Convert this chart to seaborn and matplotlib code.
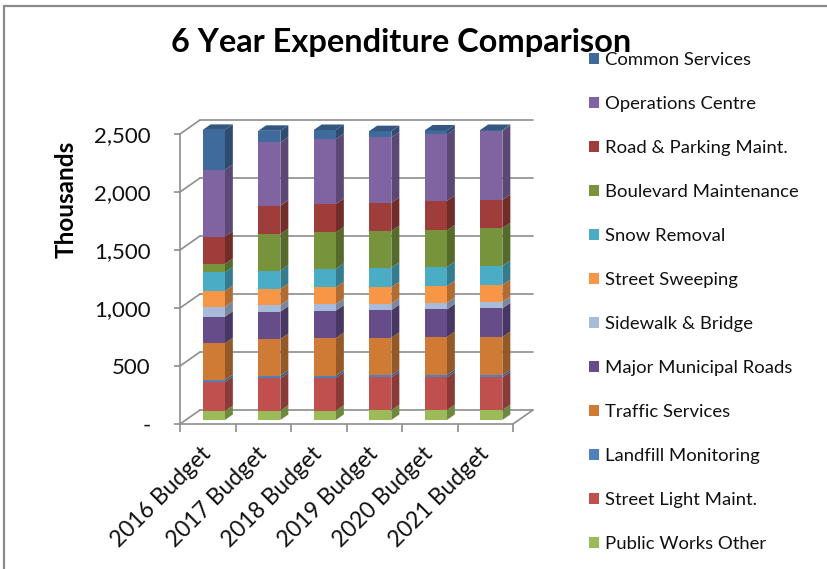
import numpy as np
import pandas as pd
import matplotlib
matplotlib.use("Agg")
import matplotlib.pyplot as plt
import matplotlib.transforms as mtransforms
import matplotlib.colors as mcolors
from matplotlib.patches import Polygon, Patch
from matplotlib.lines import Line2D
import seaborn as sns

# ---- data (thousands of dollars) ----
years = ["2016 Budget", "2017 Budget", "2018 Budget",
         "2019 Budget", "2020 Budget", "2021 Budget"]

# stack order, bottom to top
categories = ["Public Works Other", "Street Light Maint.", "Landfill Monitoring",
              "Traffic Services", "Major Municipal Roads", "Sidewalk & Bridge",
              "Street Sweeping", "Snow Removal", "Boulevard Maintenance",
              "Road & Parking Maint.", "Operations Centre", "Common Services"]

public_works_other = [78, 80, 80, 85, 85, 85]
street_light_maint = [247, 279, 282, 282, 282, 282]
landfill_monitoring = [20, 23, 20, 20, 20, 20]
traffic_services = [316, 316, 325, 322, 328, 328]
major_municipal_roads = [230, 236, 236, 238, 238, 247]
sidewalk_bridge = [86, 57, 57, 57, 57, 55]
street_sweeping = [135, 138, 144, 141, 144, 147]
snow_removal = [161, 158, 158, 167, 164, 164]
boulevard_maintenance = [72, 316, 316, 316, 316, 325]
road_parking_maint = [236, 244, 244, 244, 253, 244]
operations_centre = [575, 546, 560, 566, 575, 595]
common_services = [345, 100, 78, 52, 34, 8]

series = [public_works_other, street_light_maint, landfill_monitoring,
          traffic_services, major_municipal_roads, sidewalk_bridge,
          street_sweeping, snow_removal, boulevard_maintenance,
          road_parking_maint, operations_centre, common_services]

colors = ["#9BBB59", "#C0504D", "#4F81BD", "#CF7B36", "#664D8A", "#A9BBDA",
          "#F79646", "#4BACC6", "#77933C", "#9E3D3A", "#8064A2", "#3F6A9C"]

y_ticks = [0, 500, 1000, 1500, 2000, 2500]
y_tick_labels = ["-", "500", "1,000", "1,500", "2,000", "2,500"]

# ---- long-form table for seaborn ----
rows = []
for cat, vals in zip(categories, series):
    for yr, v in zip(years, vals):
        rows.append({"year": yr, "category": cat, "value": v})
df = pd.DataFrame(rows)
palette = dict(zip(categories, colors))

sns.set_theme(style="white")
plt.rcParams["font.family"] = ["Lato", "DejaVu Sans"]

W, H = 827, 569
fig = plt.figure(figsize=(W / 100, H / 100), dpi=100)
ax_l, ax_r, ax_t, ax_b = 180, 513, 134, 424
ax = fig.add_axes([ax_l / W, 1 - ax_b / H, (ax_r - ax_l) / W, (ax_b - ax_t) / H])

sns.histplot(data=df, x="year", hue="category", weights="value",
             multiple="stack", discrete=True, shrink=0.4,
             hue_order=categories[::-1], palette=palette,
             alpha=1, linewidth=0, legend=False, ax=ax)

ax.set_xlim(-0.5, len(years) - 0.5)
ax.set_ylim(0, 2500)

# pixel -> data conversion for the pseudo-3D depth
kx = (len(years)) / (ax_r - ax_l)
ky = 2500 / (ax_b - ax_t)

grid_col = "#8e8e8e"
lw = 1.2

# back wall offset and bar position within depth
wall_dx, wall_dy = 20 * kx, 14 * ky
bar_shift = mtransforms.ScaledTranslation(6 / 100, 4 / 100, fig.dpi_scale_trans)
bar_trans = ax.transData + bar_shift
depth_dx, depth_dy = 8 * kx, 5.5 * ky


def shade(c, f):
    r, g, b = mcolors.to_rgb(c)
    return (r * f, g * f, b * f)


# back wall gridlines with diagonal connectors to the front axis
x0, x1 = -0.5, len(years) - 0.5
for t in y_ticks:
    ax.add_line(Line2D([x0 + wall_dx, x1 + wall_dx], [t + wall_dy, t + wall_dy],
                       color=grid_col, lw=lw, clip_on=False, zorder=0.5))
    ax.add_line(Line2D([x0, x0 + wall_dx], [t, t + wall_dy],
                       color=grid_col, lw=lw, clip_on=False, zorder=0.5))
# right edge of the floor
ax.add_line(Line2D([x1, x1 + wall_dx], [0, wall_dy],
                   color=grid_col, lw=lw, clip_on=False, zorder=0.5))

# give each bar segment a side face, and each stack a top face
bars = [p for p in ax.patches if p.get_height() > 0]
tops = {}
for p in bars:
    c = p.get_facecolor()
    bx, by, bw, bh = p.get_x(), p.get_y(), p.get_width(), p.get_height()
    p.set_transform(bar_trans)
    p.set_clip_on(False)
    p.set_zorder(3)
    side = Polygon([(bx + bw, by), (bx + bw, by + bh),
                    (bx + bw + depth_dx, by + bh + depth_dy),
                    (bx + bw + depth_dx, by + depth_dy)],
                   closed=True, facecolor=shade(c, 0.72), edgecolor="none",
                   transform=bar_trans, clip_on=False, zorder=2.9)
    ax.add_patch(side)
    key = round(bx + bw / 2)
    if key not in tops or by + bh > tops[key][1] + tops[key][2]:
        tops[key] = (bx, by, bh, bw, c)

for key, (bx, by, bh, bw, c) in tops.items():
    ytop = by + bh
    top = Polygon([(bx, ytop), (bx + bw, ytop),
                   (bx + bw + depth_dx, ytop + depth_dy),
                   (bx + depth_dx, ytop + depth_dy)],
                  closed=True, facecolor=shade(c, 0.82), edgecolor="none",
                  transform=bar_trans, clip_on=False, zorder=3.1)
    ax.add_patch(top)

# axes styling
for s in ["top", "right"]:
    ax.spines[s].set_visible(False)
for s in ["left", "bottom"]:
    ax.spines[s].set_color(grid_col)
    ax.spines[s].set_linewidth(lw)

ax.set_yticks(y_ticks)
ax.set_yticklabels(y_tick_labels, fontsize=16, color="#111111")
ax.tick_params(axis="y", which="major", direction="out", length=4.5,
               width=lw, color=grid_col, pad=16.5, left=True)

ax.set_xticks(range(len(years)))
ax.set_xticklabels(years, fontsize=16.5, color="#111111",
                   rotation=45, ha="right", va="center", rotation_mode="anchor")
ax.set_xticks(np.arange(-0.5, len(years)), minor=True)
ax.tick_params(axis="x", which="major", length=0, pad=19)
ax.tick_params(axis="x", which="minor", direction="out", length=6,
               width=lw, color=grid_col, bottom=True)
ax.set_xlabel("")
ax.set_ylabel("")
ax.grid(False)

# titles
fig.text(401 / W, 1 - 52 / H, "6 Year Expenditure Comparison",
         ha="center", va="baseline", fontsize=23.4, fontweight="bold",
         color="black", zorder=1)
fig.text(66 / W, 1 - 199 / H, "Thousands", rotation=90, ha="center",
         va="center", fontsize=17.5, fontweight="bold", color="black")

# legend, top entry first
handles = [Patch(facecolor=palette[c], edgecolor="none") for c in categories[::-1]]
leg = fig.legend(handles, categories[::-1], loc="upper left",
                 bbox_to_anchor=(589 / W, 1 - 52 / H), frameon=False,
                 fontsize=13.3, labelspacing=1.515, handlelength=0.55,
                 handleheight=0.55, handletextpad=0.3, borderpad=0,
                 borderaxespad=0, labelcolor="#111111")
leg.set_zorder(2)

# chart area border
border = "#8a8a8a"
fig.add_artist(Line2D([3.5 / W, 1], [1 - 5.5 / H, 1 - 5.5 / H],
                      transform=fig.transFigure, color=border, lw=1.6))
fig.add_artist(Line2D([4 / W, 4 / W], [0, 1 - 5.5 / H],
                      transform=fig.transFigure, color=border, lw=1.6))

fig.savefig("out.png", dpi=100, facecolor="white")
